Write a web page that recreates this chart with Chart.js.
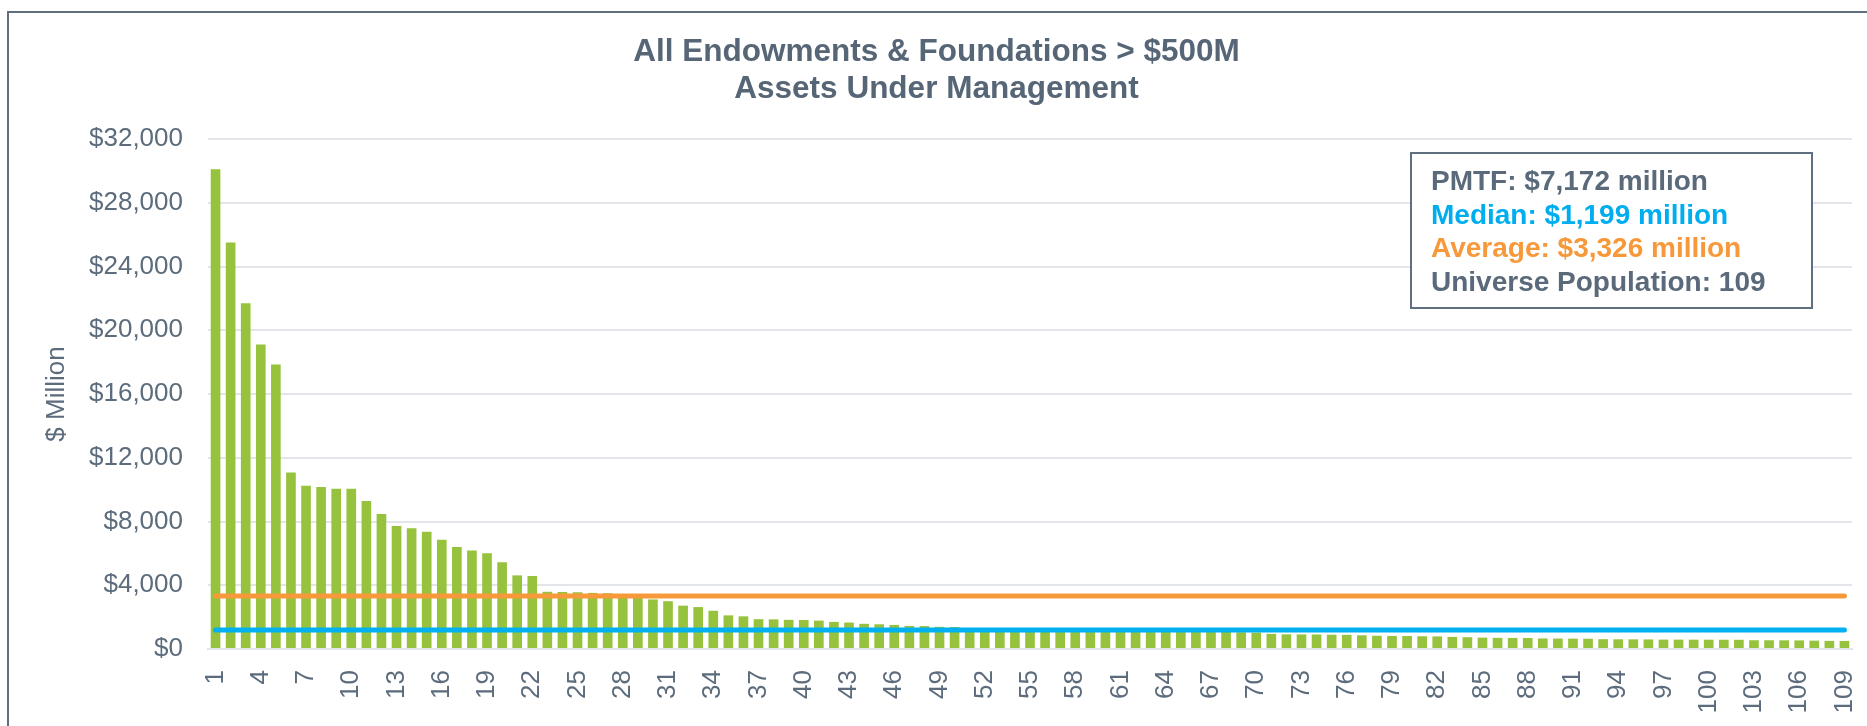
<!DOCTYPE html>
<html>
<head>
<meta charset="utf-8">
<script src="https://cdn.jsdelivr.net/npm/chart.js@4.4.1/dist/chart.umd.min.js"></script>
<style>
  body { margin: 0; background: #fff; }
  #wrap { position: relative; width: 1867px; height: 726px; overflow: hidden; }
  #frame { position: absolute; left: 7px; top: 11px; width: 1900px; height: 800px;
           border-left: 2px solid #5f6f7f; border-top: 2px solid #5f6f7f; }
  canvas { position: absolute; left: 0; top: 0; }
</style>
</head>
<body>
<div id="wrap">
  <div id="frame"></div>
  <canvas id="chart" width="1867" height="726"></canvas>
</div>
<script>
// data ($ million, ranked 1..109)
const ranks = [];
for (let i = 1; i <= 109; i++) ranks.push(String(i));

const assets = [
  30100, 25500, 21700, 19100, 17850, 11080, 10250, 10170, 10060, 10050,
  9280, 8470, 7720, 7580, 7360, 6850, 6400, 6180, 6010, 5450,
  4620, 4580, 3590, 3580, 3560, 3520, 3500, 3380, 3250, 3110,
  3000, 2720, 2630, 2400, 2110, 2050, 1870, 1860, 1830, 1820,
  1780, 1700, 1660, 1580, 1550, 1510, 1450, 1440, 1390, 1380,
  1320, 1300, 1270, 1240, 1199, 1190, 1180, 1170, 1160, 1150,
  1140, 1130, 1120, 1110, 1100, 1090, 1080, 1070, 1050, 1030,
  950, 920, 915, 910, 895, 890, 860, 830, 820, 815,
  800, 790, 760, 740, 715, 700, 695, 690, 660, 655,
  650, 645, 615, 610, 605, 600, 590, 588, 585, 583,
  580, 578, 550, 548, 545, 540, 525, 510, 505
];

const median = 1199;
const average = 3326;

const yTicks = [0, 4000, 8000, 12000, 16000, 20000, 24000, 28000, 32000];

const boxLines = [
  { text: "PMTF: $7,172 million", color: "#5a6a7a" },
  { text: "Median: $1,199 million", color: "#00aeef" },
  { text: "Average: $3,326 million", color: "#f7993a" },
  { text: "Universe Population: 109", color: "#5a6a7a" }
];

const textColor = "#5c6c7c";
const font = "'Liberation Sans', Arial, sans-serif";

// the white stats box in the upper right
const statsBox = {
  id: "statsBox",
  afterDraw(chart) {
    const ctx = chart.ctx;
    ctx.save();
    ctx.fillStyle = "#fff";
    ctx.fillRect(1411, 153, 401, 155);
    ctx.strokeStyle = "#5f6f7f";
    ctx.lineWidth = 2;
    ctx.strokeRect(1411, 153, 401, 155);
    ctx.font = "bold 28px " + font;
    ctx.textBaseline = "alphabetic";
    ctx.textAlign = "left";
    boxLines.forEach((l, i) => {
      ctx.fillStyle = l.color;
      ctx.fillText(l.text, 1431, 190 + i * 33.6);
    });
    ctx.restore();
  }
};

const ctx = document.getElementById("chart").getContext("2d");
new Chart(ctx, {
  type: "bar",
  data: {
    labels: ranks,
    datasets: [
      {
        type: "line",
        label: "Average",
        data: ranks.map(() => average),
        borderColor: "#f7993a",
        borderWidth: 5,
        borderCapStyle: "round",
        pointRadius: 0,
        order: 0
      },
      {
        type: "line",
        label: "Median",
        data: ranks.map(() => median),
        borderColor: "#00b0f0",
        borderWidth: 5,
        borderCapStyle: "round",
        pointRadius: 0,
        order: 0
      },
      {
        label: "AUM",
        data: assets,
        backgroundColor: "#97c23d",
        categoryPercentage: 1,
        barPercentage: 0.64,
        order: 1
      }
    ]
  },
  options: {
    responsive: false,
    animation: false,
    layout: { padding: { left: 21, right: 15, top: 0, bottom: 0 } },
    plugins: {
      legend: { display: false },
      tooltip: { enabled: false },
      title: {
        display: true,
        text: ["All Endowments & Foundations > $500M", "Assets Under Management"],
        color: "#566676",
        font: { family: font, size: 31.5, weight: "bold", lineHeight: 1.2 },
        padding: { top: 33, bottom: 30.4 }
      }
    },
    scales: {
      x: {
        grid: { display: false, drawTicks: false },
        border: { display: true, color: "#e2e5e9", width: 2 },
        ticks: {
          autoSkip: false,
          minRotation: 90,
          maxRotation: 90,
          padding: 21,
          color: textColor,
          font: { family: font, size: 26 },
          callback: (v, i) => (i % 3 === 0 ? ranks[i] : "")
        },
        afterFit: (s) => {
          s.height = 77;
          s.paddingLeft = 0;
          s.paddingRight = 0;
        }
      },
      y: {
        min: 0,
        max: 32000,
        afterBuildTicks: (s) => { s.ticks = yTicks.map((v) => ({ value: v })); },
        grid: { color: "#e2e5e9", lineWidth: 2, drawTicks: false },
        border: { display: false },
        ticks: {
          padding: 25,
          color: textColor,
          font: { family: font, size: 26 },
          callback: (v) => "$" + v.toLocaleString("en-US")
        },
        title: {
          display: true,
          text: "$ Million",
          color: textColor,
          font: { family: font, size: 26 },
          padding: { top: 20, bottom: 0 }
        },
        afterFit: (s) => { s.width = 187; }
      }
    }
  },
  plugins: [statsBox]
});
</script>
</body>
</html>
